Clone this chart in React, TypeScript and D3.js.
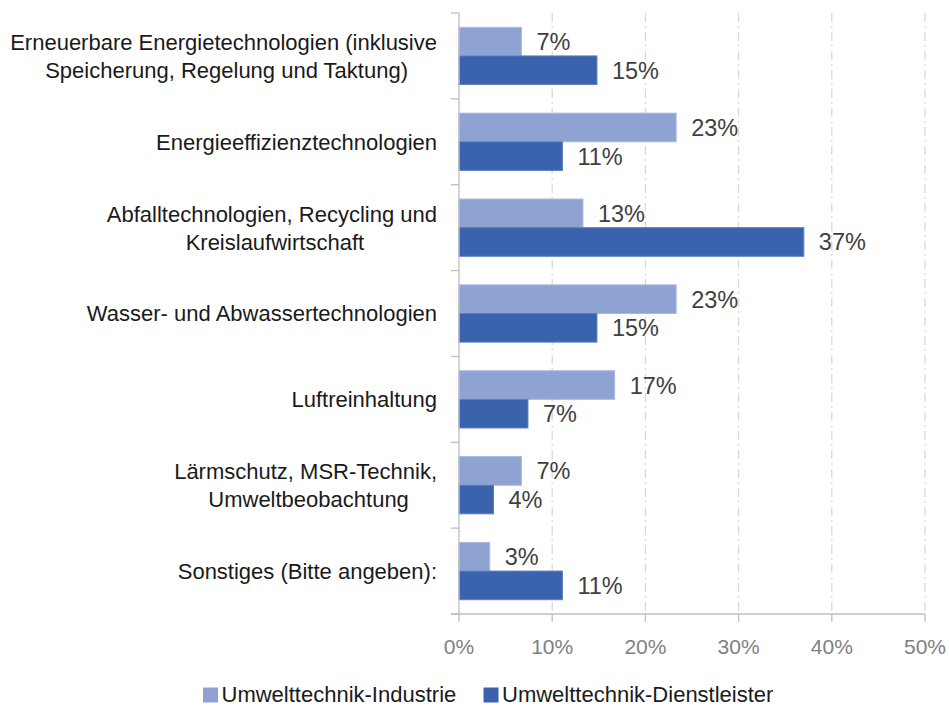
import React, { useEffect, useRef } from "react";
import * as d3 from "d3";

const categories: string[][] = [
  ["Erneuerbare Energietechnologien (inklusive", "Speicherung, Regelung und Taktung)"],
  ["Energieeffizienztechnologien"],
  ["Abfalltechnologien, Recycling und", "Kreislaufwirtschaft"],
  ["Wasser- und Abwassertechnologien"],
  ["Luftreinhaltung"],
  ["Lärmschutz, MSR-Technik,", "Umweltbeobachtung"],
  ["Sonstiges (Bitte angeben):"],
];
const industrie: number[] = [6.7, 23.3, 13.3, 23.3, 16.7, 6.7, 3.3];
const dienstleister: number[] = [14.8, 11.1, 37.0, 14.8, 7.4, 3.7, 11.1];
const seriesNames: string[] = ["Umwelttechnik-Industrie", "Umwelttechnik-Dienstleister"];
const xTicks: number[] = [0, 10, 20, 30, 40, 50];

const W = 949;
const H = 706;
const FONT = "'Liberation Sans', Arial, sans-serif";
const COLORS = ["#8FA3D3", "#3B63AD"];
const STROKES = ["#A9B9E0", "#5A7EC2"];

export default function App() {
  const ref = useRef<SVGSVGElement | null>(null);

  useEffect(() => {
    const svg = d3.select(ref.current);
    svg.selectAll("*").remove();

    const x = d3.scaleLinear().domain([0, 50]).range([459, 925]);
    const y = d3
      .scaleBand<number>()
      .domain(d3.range(categories.length))
      .range([13, 614])
      .paddingInner(0)
      .paddingOuter(0);
    const bw = y.bandwidth();
    const inner = d3
      .scaleBand<number>()
      .domain([0, 1])
      .range([0, bw])
      .paddingOuter(0.5)
      .paddingInner(0);

    // gridlines
    const grid = svg.append("g");
    xTicks.slice(1).forEach((t) => {
      grid
        .append("line")
        .attr("x1", x(t))
        .attr("x2", x(t))
        .attr("y1", 13)
        .attr("y2", 614)
        .attr("stroke", "#D9D9D9")
        .attr("stroke-width", 1.3)
        .attr("stroke-dasharray", "9,4,2,4");
    });

    // bars
    const series = [industrie, dienstleister];
    series.forEach((vals, si) => {
      const g = svg.append("g");
      vals.forEach((v, i) => {
        const by = (y(i) as number) + (inner(si) as number);
        g.append("rect")
          .attr("x", x(0))
          .attr("y", by)
          .attr("width", x(v) - x(0))
          .attr("height", inner.bandwidth())
          .attr("fill", COLORS[si])
          .attr("stroke", STROKES[si])
          .attr("stroke-width", 1);
        g.append("text")
          .attr("x", x(v) + 15)
          .attr("y", by + inner.bandwidth() / 2)
          .attr("dy", "0.36em")
          .attr("font-family", FONT)
          .attr("font-size", 23.5)
          .attr("fill", "#404040")
          .text(`${Math.round(v)}%`);
      });
    });

    // axes
    const ax = svg.append("g").attr("stroke", "#BFBFBF").attr("stroke-width", 1.3);
    ax.append("line").attr("x1", x(0)).attr("x2", x(0)).attr("y1", 13).attr("y2", 614);
    ax.append("line").attr("x1", x(0) - 8).attr("x2", x(50)).attr("y1", 614).attr("y2", 614);
    d3.range(categories.length + 1).forEach((i) => {
      const yy = i < categories.length ? (y(i) as number) : 614;
      ax.append("line").attr("x1", x(0) - 8).attr("x2", x(0)).attr("y1", yy).attr("y2", yy);
    });
    xTicks.forEach((t) => {
      ax.append("line").attr("x1", x(t)).attr("x2", x(t)).attr("y1", 614).attr("y2", 622);
      svg
        .append("text")
        .attr("x", x(t))
        .attr("y", 646)
        .attr("dy", "0.36em")
        .attr("text-anchor", "middle")
        .attr("font-family", FONT)
        .attr("font-size", 21)
        .attr("fill", "#808080")
        .text(`${t}%`);
    });

    // category labels
    categories.forEach((lines, i) => {
      const cy = (y(i) as number) + bw / 2;
      const g = svg.append("g");
      const texts = lines.map((ln, li) =>
        g
          .append("text")
          .attr("y", cy + (li - (lines.length - 1) / 2) * 28)
          .attr("dy", "0.36em")
          .attr("text-anchor", "middle")
          .attr("font-family", FONT)
          .attr("font-size", 22)
          .attr("fill", "#1A1A1A")
          .text(ln)
      );
      const widths = texts.map((t) => (t.node() as SVGTextElement).getComputedTextLength());
      const maxW = d3.max(widths) || 0;
      const center = 437 - maxW / 2;
      texts.forEach((t, li) => t.attr("x", center + (li > 0 ? 3 : 0)));
    });

    // legend
    const legendX = [203, 483.5];
    seriesNames.forEach((name, si) => {
      svg
        .append("rect")
        .attr("x", legendX[si])
        .attr("y", 687.5)
        .attr("width", 15)
        .attr("height", 15)
        .attr("fill", COLORS[si]);
      svg
        .append("text")
        .attr("x", legendX[si] + 18.5)
        .attr("y", 702)
        .attr("font-family", FONT)
        .attr("font-size", 22)
        .attr("fill", "#1A1A1A")
        .text(name);
    });
  }, []);

  return (
    <svg
      ref={ref}
      width={W}
      height={H}
      style={{ position: "absolute", left: 0, top: 0, background: "#fff" }}
    />
  );
}
